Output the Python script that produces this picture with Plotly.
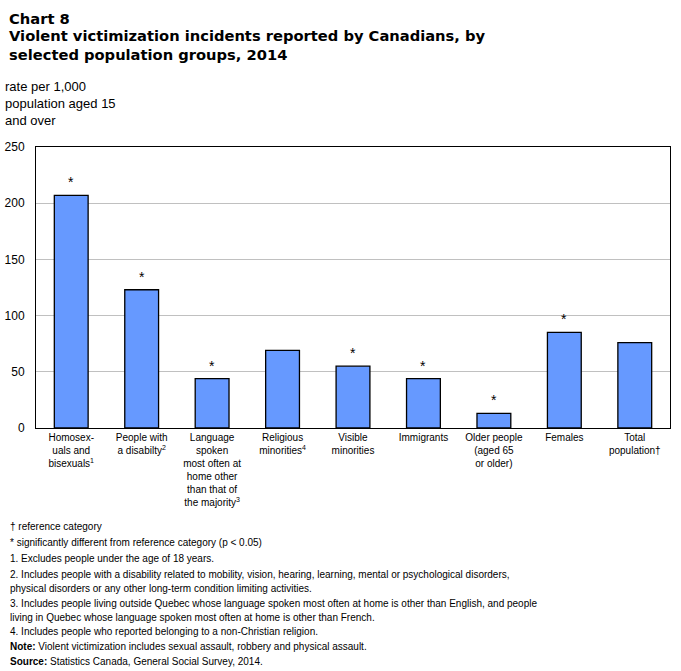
import plotly.graph_objects as go

categories = [
    "Homosex-<br>uals and<br>bisexuals<sup>1</sup>",
    "People with<br>a disabilty<sup>2</sup>",
    "Language<br>spoken<br>most often at<br>home other<br>than that of<br>the majority<sup>3</sup>",
    "Religious<br>minorities<sup>4</sup>",
    "Visible<br>minorities",
    "Immigrants",
    "Older people<br>(aged 65<br>or older)",
    "Females",
    "Total<br>population†",
]
rates = [207, 123, 44, 69, 55, 44, 13, 85, 76]
significant = [True, True, True, False, True, True, True, True, False]
y_ticks = [0, 50, 100, 150, 200, 250]

footnotes = [
    "† reference category",
    "* significantly different from reference category (p < 0.05)",
    "1. Excludes people under the age of 18 years.",
    "2. Includes people with a disability related to mobility, vision, hearing, learning, mental or psychological disorders,",
    "physical disorders or any other long-term condition limiting activities.",
    "3. Includes people living outside Quebec whose language spoken most often at home is other than English, and people",
    "living in Quebec whose language spoken most often at home is other than French.",
    "4. Includes people who reported belonging to a non-Christian religion.",
    "<b>Note:</b> Violent victimization includes sexual assault, robbery and physical assault.",
    "<b>Source:</b> Statistics Canada, General Social Survey, 2014.",
]
footnote_y = [526, 542, 558, 574, 588, 603, 617, 631, 646, 661]

W, H = 681, 671
L, R, T, B = 36, 670, 147, 428
FONT = "Liberation Sans"

def px(x):
    return (x - L) / (R - L)

def py(y):
    return (B - y) / (B - T)

fig = go.Figure()
fig.add_trace(go.Bar(
    x=categories, y=rates,
    marker=dict(color="#6699ff", line=dict(color="black", width=1.3)),
    width=0.48,
    hoverinfo="x+y",
))

annotations = []
for c, v, s in zip(categories, rates, significant):
    if s:
        annotations.append(dict(x=c, y=v, xref="x", yref="y", text="*", showarrow=False,
                                yanchor="bottom", yshift=3, font=dict(size=14, color="black", family=FONT)))

annotations.append(dict(x=px(7), y=py(18), xref="paper", yref="paper", xanchor="left", yanchor="middle",
                        text="<b>Chart 8</b>", showarrow=False, font=dict(size=14.7, color="black", family="DejaVu Sans")))
annotations.append(dict(x=px(7), y=py(45), xref="paper", yref="paper", xanchor="left", yanchor="middle",
                        align="left",
                        text="<b>Violent victimization incidents reported by Canadians, by<br>selected population groups, 2014</b>",
                        showarrow=False, font=dict(size=14.7, color="black", family="DejaVu Sans")))
annotations.append(dict(x=px(3), y=py(104), xref="paper", yref="paper", xanchor="left", yanchor="middle",
                        align="left", text="rate per 1,000<br>population aged 15<br>and over",
                        showarrow=False, font=dict(size=13, color="black", family=FONT)))
for t, yy in zip(footnotes, footnote_y):
    annotations.append(dict(x=px(8), y=py(yy), xref="paper", yref="paper", xanchor="left", yanchor="middle",
                            align="left", text=t, showarrow=False,
                            font=dict(size=10, color="black", family=FONT)))

fig.update_layout(
    width=W, height=H,
    margin=dict(l=L, r=W - R, t=T, b=H - B, autoexpand=False),
    paper_bgcolor="white", plot_bgcolor="white",
    showlegend=False,
    bargap=0.52,
    font=dict(family=FONT, color="black", size=11),
    annotations=annotations,
    xaxis=dict(showline=True, linecolor="black", linewidth=1, mirror=True,
               tickfont=dict(size=10, family=FONT), ticks="", fixedrange=True),
    yaxis=dict(range=[0, 250], tickvals=y_ticks, showgrid=True, gridcolor="#c0c0c0", gridwidth=1,
               showline=True, linecolor="black", linewidth=1, mirror=True, zeroline=False,
               tickfont=dict(size=12, family=FONT), ticks="", ticklabelstandoff=8, fixedrange=True),
)

fig.write_html("out.html", config={"displayModeBar": False},
               post_script="document.body.style.margin='0';document.body.style.overflow='hidden';")
